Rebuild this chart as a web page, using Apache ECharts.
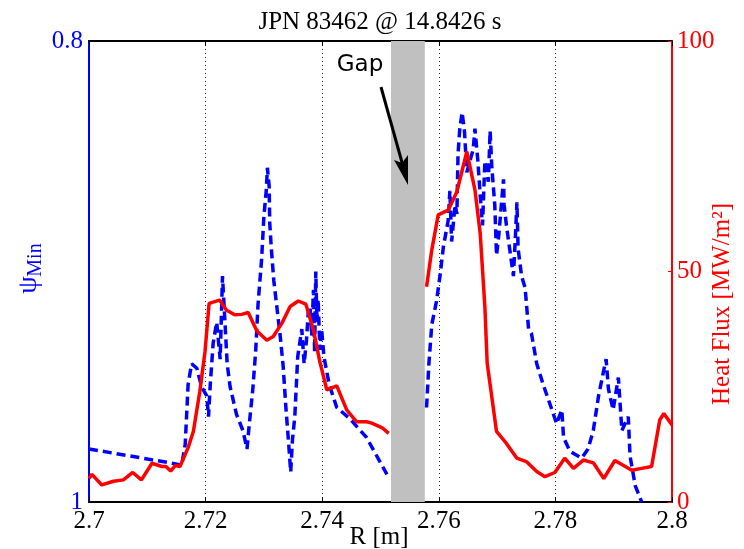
<!DOCTYPE html>
<html>
<head>
<meta charset="utf-8">
<title>JPN 83462</title>
<script src="https://cdn.jsdelivr.net/npm/echarts@6/dist/echarts.min.js"></script>
<style>
  html, body { margin: 0; padding: 0; background: #fff; }
  #main { width: 744px; height: 549px; }
</style>
</head>
<body>
<div id="main"></div>
<script type="text/javascript">
// R [m] and psi_min, before and after the gap
var psiR1 = [2.7000, 2.7139, 2.7159, 2.7165, 2.7170, 2.7176, 2.7185, 2.7193, 2.7202, 2.7205, 2.7208, 2.7213,
  2.7219, 2.7225, 2.7228, 2.7229, 2.7233, 2.7237, 2.7242, 2.7253, 2.7264, 2.7271, 2.7275, 2.7281, 2.7286,
  2.7290, 2.7296, 2.7300, 2.7304, 2.7306, 2.7309, 2.7310, 2.7313, 2.7317, 2.7322, 2.7328, 2.7333, 2.7338,
  2.7342, 2.7346, 2.7349, 2.7353, 2.7358, 2.7365, 2.7369, 2.7373, 2.7376, 2.7379, 2.7382, 2.7385, 2.7387,
  2.7389, 2.7391, 2.7393, 2.7396, 2.7399, 2.7403, 2.7412, 2.7425, 2.7448, 2.7476, 2.7511];
var psi1 = [0.977, 0.983, 0.984, 0.975, 0.949, 0.940, 0.942, 0.950, 0.954, 0.963, 0.949, 0.931,
  0.922, 0.938, 0.911, 0.902, 0.921, 0.940, 0.950, 0.962, 0.969, 0.977, 0.966, 0.951, 0.934,
  0.914, 0.895, 0.876, 0.865, 0.855, 0.863, 0.879, 0.891, 0.904, 0.915, 0.928, 0.941, 0.960,
  0.973, 0.987, 0.973, 0.963, 0.937, 0.925, 0.940, 0.930, 0.918, 0.915, 0.928, 0.908, 0.935,
  0.900, 0.922, 0.912, 0.934, 0.925, 0.937, 0.949, 0.959, 0.964, 0.972, 0.988];

var psiR2 = [2.7579, 2.7583, 2.7588, 2.7596, 2.7602, 2.7608, 2.7616, 2.7619, 2.7622, 2.7628, 2.7631, 2.7633,
  2.7636, 2.7640, 2.7644, 2.7648, 2.7659, 2.7662, 2.7667, 2.7671, 2.7675, 2.7679, 2.7685, 2.7688, 2.7691,
  2.7696, 2.7699, 2.7703, 2.7711, 2.7712, 2.7716, 2.7722, 2.7728, 2.7731, 2.7734, 2.7736, 2.7742, 2.7748,
  2.7754, 2.7759, 2.7768, 2.7779, 2.7794, 2.7802, 2.7811, 2.7814, 2.7825, 2.7845, 2.7856, 2.7865,
  2.7874, 2.7882, 2.7887, 2.7891, 2.7899, 2.7908, 2.7914, 2.7925, 2.7928, 2.7937, 2.7948];
var psi2 = [0.959, 0.940, 0.923, 0.913, 0.902, 0.889, 0.878, 0.865, 0.887, 0.871, 0.875, 0.849,
  0.838, 0.831, 0.839, 0.857, 0.847, 0.838, 0.852, 0.867, 0.880, 0.852, 0.861, 0.839, 0.855,
  0.871, 0.893, 0.884, 0.860, 0.871, 0.880, 0.891, 0.902, 0.887, 0.870, 0.890, 0.902, 0.907,
  0.925, 0.927, 0.940, 0.949, 0.960, 0.966, 0.960, 0.972, 0.978, 0.981, 0.977, 0.969,
  0.954, 0.944, 0.938, 0.951, 0.960, 0.946, 0.969, 0.963, 0.980, 0.993, 1.000];

// R [m] and heat flux [MW/m2], before and after the gap
var hfR1 = [2.7000, 2.7005, 2.7022, 2.7042, 2.7059, 2.7075, 2.7090, 2.7108, 2.7125, 2.7132, 2.7140, 2.7148,
  2.7156, 2.7170, 2.7179, 2.7190, 2.7199, 2.7206, 2.7224, 2.7236, 2.7250, 2.7262, 2.7273, 2.7288, 2.7305,
  2.7316, 2.7331, 2.7345, 2.7359, 2.7372, 2.7385, 2.7396, 2.7408, 2.7425, 2.7442, 2.7459, 2.7476, 2.7485,
  2.7503, 2.7514];
var hf1 = [5.1, 6.0, 3.7, 4.5, 4.8, 6.4, 4.8, 8.4, 7.7, 7.7, 6.7, 7.9,
  7.7, 11.8, 15.3, 23.9, 32.6, 43.1, 43.8, 41.6, 40.6, 40.7, 41.1, 37.1, 35.1,
  35.9, 38.8, 42.4, 43.6, 42.9, 37.3, 30.4, 24.3, 25.2, 20.0, 17.4, 17.4, 17.1,
  16.1, 14.9];

var hfR2 = [2.7579, 2.7588, 2.7599, 2.7616, 2.7631, 2.7648, 2.7662, 2.7671, 2.7679, 2.7683, 2.7699, 2.7716,
  2.7734, 2.7751, 2.7768, 2.7782, 2.7799, 2.7816, 2.7831, 2.7848, 2.7865, 2.7883, 2.7902, 2.7931, 2.7948,
  2.7965, 2.7979, 2.7986, 2.8000];
var hf2 = [46.7, 54.7, 62.3, 63.3, 67.3, 76.0, 67.7, 58.3, 42.4, 30.1, 15.3, 12.7,
  9.5, 8.7, 6.6, 5.5, 6.4, 9.5, 7.3, 9.1, 8.5, 5.1, 9.0, 6.9, 7.3,
  7.7, 17.8, 19.2, 16.7];

// gap in the measurement
var gapR = [2.7518, 2.7576];
var rTicks = [2.7, 2.8, 0.02];

function pairs(xs, ys) {
  var out = [];
  for (var i = 0; i < xs.length; i++) out.push([xs[i], ys[i]]);
  return out;
}

var serif = 'Liberation Serif';
var chart = echarts.init(document.getElementById('main'));

var option = {
  animation: false,
  backgroundColor: '#fff',
  grid: { left: 89, right: 72, top: 41, bottom: 47 },
  xAxis: [
    {
      type: 'value', min: rTicks[0], max: rTicks[1], interval: rTicks[2],
      axisLine: { lineStyle: { color: '#000', width: 2 } },
      axisTick: { inside: true, length: 5, lineStyle: { color: '#000' } },
      axisLabel: { color: '#000', fontFamily: serif, fontSize: 25, margin: 7 },
      splitLine: { show: true, lineStyle: { color: '#222', type: [1, 3], width: 1 } }
    },
    {
      type: 'value', position: 'top', min: rTicks[0], max: rTicks[1], interval: rTicks[2],
      axisLine: { lineStyle: { color: '#000', width: 2 } },
      axisTick: { inside: true, length: 5, lineStyle: { color: '#000' } },
      axisLabel: { show: false },
      splitLine: { show: false }
    }
  ],
  yAxis: [
    {
      type: 'value', position: 'left', min: 0.8, max: 1, interval: 0.2, inverse: true,
      axisLine: { show: true, lineStyle: { color: '#0000ff', width: 2 } },
      axisTick: { show: false },
      axisLabel: {
        color: '#0000ff', fontFamily: serif, fontSize: 25, margin: 6,
        formatter: function (v) { return v >= 0.99 ? '1' : v.toFixed(1); }
      },
      splitLine: { show: false }
    },
    {
      type: 'value', position: 'right', min: 0, max: 100, interval: 50,
      axisLine: { show: true, lineStyle: { color: '#ff0000', width: 2 } },
      axisTick: { show: true, inside: true, length: 4, lineStyle: { color: '#ff0000' } },
      axisLabel: { color: '#ff0000', fontFamily: serif, fontSize: 25, margin: 5 },
      splitLine: { show: false }
    }
  ],
  series: [
    {
      type: 'line', yAxisIndex: 1, silent: true, symbol: 'none', data: [],
      markArea: {
        silent: true,
        itemStyle: { color: '#c0c0c0' },
        data: [[{ xAxis: gapR[0] }, { xAxis: gapR[1] }]]
      }
    },
    {
      name: 'psi1', type: 'line', yAxisIndex: 0, symbol: 'none',
      lineStyle: { color: '#0000ff', width: 3.5, type: [9, 5] },
      data: pairs(psiR1, psi1)
    },
    {
      name: 'psi2', type: 'line', yAxisIndex: 0, symbol: 'none',
      lineStyle: { color: '#0000ff', width: 3.5, type: [9, 5] },
      data: pairs(psiR2, psi2)
    },
    {
      name: 'hf1', type: 'line', yAxisIndex: 1, symbol: 'none',
      lineStyle: { color: '#ff0000', width: 3.5 },
      data: pairs(hfR1, hf1)
    },
    {
      name: 'hf2', type: 'line', yAxisIndex: 1, symbol: 'none',
      lineStyle: { color: '#ff0000', width: 3.5 },
      data: pairs(hfR2, hf2)
    }
  ],
  graphic: [
    {
      type: 'text', x: 380, y: 22,
      style: { text: 'JPN 83462 @ 14.8426 s', fontFamily: serif, fontSize: 25, fill: '#000',
        textAlign: 'center', textVerticalAlign: 'middle' }
    },
    {
      type: 'text', x: 379, y: 537,
      style: { text: 'R [m]', fontFamily: serif, fontSize: 25, fill: '#000',
        textAlign: 'center', textVerticalAlign: 'middle' }
    },
    {
      type: 'text', x: 29, y: 285, rotation: Math.PI / 2,
      style: { text: 'ψ', fontFamily: serif, fontSize: 28, fill: '#0000ff',
        textAlign: 'center', textVerticalAlign: 'middle' }
    },
    {
      type: 'text', x: 36, y: 260, rotation: Math.PI / 2,
      style: { text: 'Min', fontFamily: serif, fontSize: 20, fill: '#0000ff',
        textAlign: 'center', textVerticalAlign: 'middle' }
    },
    {
      type: 'text', x: 722, y: 304, rotation: Math.PI / 2,
      style: { text: 'Heat Flux [MW/m²]', fontFamily: serif, fontSize: 25, fill: '#ff0000',
        textAlign: 'center', textVerticalAlign: 'middle' }
    },
    {
      type: 'text', x: 360, y: 65,
      style: { text: 'Gap', fontFamily: 'DejaVu Sans', fontSize: 23, fill: '#000',
        textAlign: 'center', textVerticalAlign: 'middle' }
    },
    {
      type: 'line', z: 100,
      shape: { x1: 381, y1: 87, x2: 403, y2: 166 },
      style: { stroke: '#000', lineWidth: 3 }
    },
    {
      type: 'polygon', z: 100,
      shape: { points: [[408, 185], [408, 155], [402, 163], [394, 160]] },
      style: { fill: '#000' }
    }
  ]
};

chart.setOption(option);
</script>
</body>
</html>
